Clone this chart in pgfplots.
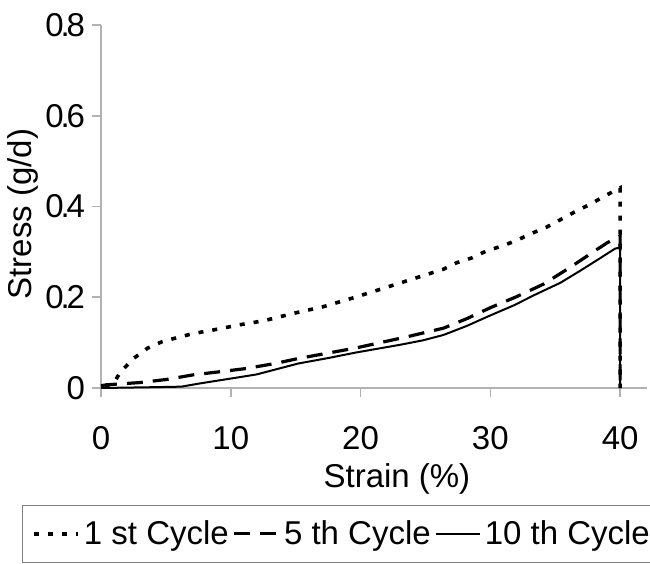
\documentclass[border=0pt]{standalone}
\usepackage{pgfplots}
\pgfplotsset{compat=1.18}
\usepackage{fontspec}
\setmainfont{Liberation Sans}
\newcommand{\dd}{{\kern-1.6pt}.{\kern-1.6pt}}
\begin{document}
\begin{tikzpicture}
\begin{axis}[
 scale only axis, width=273pt, height=181.5pt,
 xmin=0, xmax=42.07, ymin=0, ymax=0.8,
 axis x line=bottom, axis y line=left,
 axis line style={gray!60, line width=0.8pt, -},
 xtick={0,10,20,30,40}, ytick={0,0.2,0.4,0.6,0.8},
 yticklabels={0,0\dd2,0\dd4,0\dd6,0\dd8},
 tick align=outside, major tick length=4.5pt,
 tick style={gray!60, line width=0.8pt},
 every tick label/.append style={font=\fontsize{16.5}{20}\selectfont},
 /pgf/number format/assume math mode=true,
 xticklabel style={yshift=-11pt},
 yticklabel style={xshift=0pt},
 xlabel={Strain (\%)}, ylabel={Stress (g/d)},
 label style={font=\fontsize{16.5}{20}\selectfont},
 xlabel style={at={(axis description cs:0.542,-0.275)}, anchor=base},
 ylabel style={at={(axis description cs:-0.142,0.479)}, anchor=center},
 legend columns=3,
 legend style={at={(axis description cs:-0.1447,-0.3223)}, anchor=north west, draw=gray, font=\fontsize{16.5}{20}\selectfont, inner xsep=5pt, inner ysep=5.5pt,
   /tikz/every even column/.append style={column sep=0pt}},
 legend image code/.code={\draw[#1] (0pt,0pt) -- (22pt,0pt);},
 clip=false,
]
\addplot[black, line width=1.8pt, dash pattern=on 2.5pt off 4.5pt] coordinates {
(0.3,0.003) (1.0,0.012) (1.5,0.035) (2.5,0.065) (3.6,0.088) (4.7,0.102) (6.0,0.112) (7.1,0.12) (8.3,0.126) (9.4,0.132) (10.6,0.139) (11.7,0.144) (12.8,0.15) (14.9,0.165) (17.1,0.179) (19.7,0.201) (23.0,0.231) (26.4,0.262) (27.4,0.276) (28.6,0.287) (29.7,0.302) (30.9,0.313) (32.0,0.325) (33.2,0.341) (34.3,0.354) (35.4,0.371) (36.5,0.388) (37.7,0.405) (38.8,0.423) (40,0.441) (40,0)
};
\addlegendentry{1 st Cycle}
\addplot[black, line width=1.6pt, dash pattern=on 8pt off 5pt] coordinates {
(0,0.005) (0.4,0.007) (3.0,0.012) (5.1,0.019) (7.1,0.029) (9.2,0.036) (11.2,0.043) (13.4,0.054) (15.2,0.065) (19.6,0.088) (23.6,0.113) (26.4,0.132) (28.2,0.153) (30,0.177) (32,0.201) (34.1,0.229) (36.1,0.265) (38.2,0.305) (39,0.32) (40,0.335) (40,0)
};
\addlegendentry{5 th Cycle}
\addplot[black, line width=1pt] coordinates {
(0,0) (4.5,0.002) (6.2,0.003) (7.6,0.01) (10.7,0.024) (12,0.03) (15.2,0.054) (17.5,0.066) (19.6,0.078) (23,0.095) (24.8,0.105) (26.4,0.117) (28.2,0.137) (30,0.16) (31.8,0.182) (33.4,0.205) (35.4,0.232) (36.9,0.258) (38.4,0.285) (39.6,0.307) (40,0.31) (40,0.345) (40,0)
};
\addlegendentry{10 th Cycle}
\end{axis}
\pgfresetboundingbox
\useasboundingbox (-50.5pt,-88pt) rectangle (274.5pt,194pt);
\end{tikzpicture}
\end{document}
